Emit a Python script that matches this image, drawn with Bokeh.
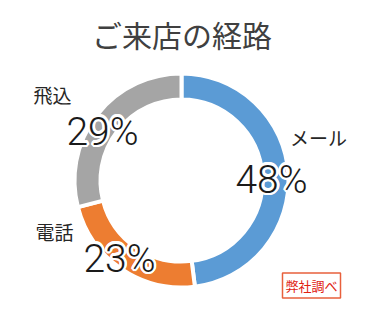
import math
from bokeh.plotting import figure
from bokeh.models import ColumnDataSource, Label
from bokeh.core.properties import value
from bokeh.embed import file_html
from bokeh.resources import INLINE

# data
categories = ["メール", "電話", "飛込"]
shares = [48, 23, 29]
colors = ["#5B9BD5", "#ED7D31", "#A5A5A5"]
title_text = "ご来店の経路"
source_note = "弊社調べ"

W, H = 367, 322
CX, CY = 181, H - 180
R_OUT, R_IN = 107, 81

total = sum(shares)
starts, ends = [], []
acc = 0
for s in shares:
    starts.append(math.pi / 2 - 2 * math.pi * acc / total)
    acc += s
    ends.append(math.pi / 2 - 2 * math.pi * acc / total)

src = ColumnDataSource(dict(cat=categories, share=shares, color=colors,
                            start=starts, end=ends))

p = figure(width=W, height=H, x_range=(0, W), y_range=(0, H),
           output_backend="svg", toolbar_location=None, min_border=0)
p.axis.visible = False
p.grid.visible = False
p.outline_line_color = None
p.background_fill_color = "white"
p.border_fill_color = "white"

p.annular_wedge(x=CX, y=CY, inner_radius=R_IN, outer_radius=R_OUT,
                start_angle="start", end_angle="end", direction="clock",
                fill_color="color", line_color="white", line_width=4,
                source=src)

# label positions (pixel coords from top)
name_pos = [(318, 137), (54, 231), (52, 94)]
pct_pos = [(271, 179), (119, 258), (102, 131)]

name_src = ColumnDataSource(dict(x=[q[0] for q in name_pos],
                                 y=[H - q[1] for q in name_pos],
                                 t=categories))
pct_src = ColumnDataSource(dict(x=[q[0] for q in pct_pos],
                                y=[H - q[1] for q in pct_pos],
                                t=[f"{s}%" for s in shares]))

p.text(x="x", y="y", text="t", source=name_src, text_align="center",
       text_baseline="middle", text_font=value("Noto Sans CJK JP"),
       text_font_size="19px", text_color="#262626")

PCT_FONT = value("'Roboto Light', 'Liberation Sans', sans-serif")
# white halo behind percentages
for k in range(16):
    a = 2 * math.pi * k / 16
    p.text(x="x", y="y", text="t", source=pct_src, text_align="center",
           text_baseline="middle", text_font=PCT_FONT,
           text_font_size="39px", text_color="white",
           x_offset=2.5 * math.cos(a), y_offset=2.5 * math.sin(a))
p.text(x="x", y="y", text="t", source=pct_src, text_align="center",
       text_baseline="middle", text_font=PCT_FONT,
       text_font_size="39px", text_color="#1a1a1a")

p.add_layout(Label(x=W / 2 - 2, y=H - 33, text=title_text, text_align="center",
                   text_baseline="middle", text_font="Noto Sans CJK JP",
                   text_font_size="30px", text_color="#404040"))

p.add_layout(Label(x=311, y=H - 285, text=source_note, text_align="center",
                   text_baseline="middle", text_font="Noto Sans CJK JP",
                   text_font_size="13px", text_color="#E02010",
                   border_line_color="#E8603C", border_line_width=1.5,
                   padding=3, background_fill_color="white"))

open("out.html", "w").write(file_html(p, INLINE))
